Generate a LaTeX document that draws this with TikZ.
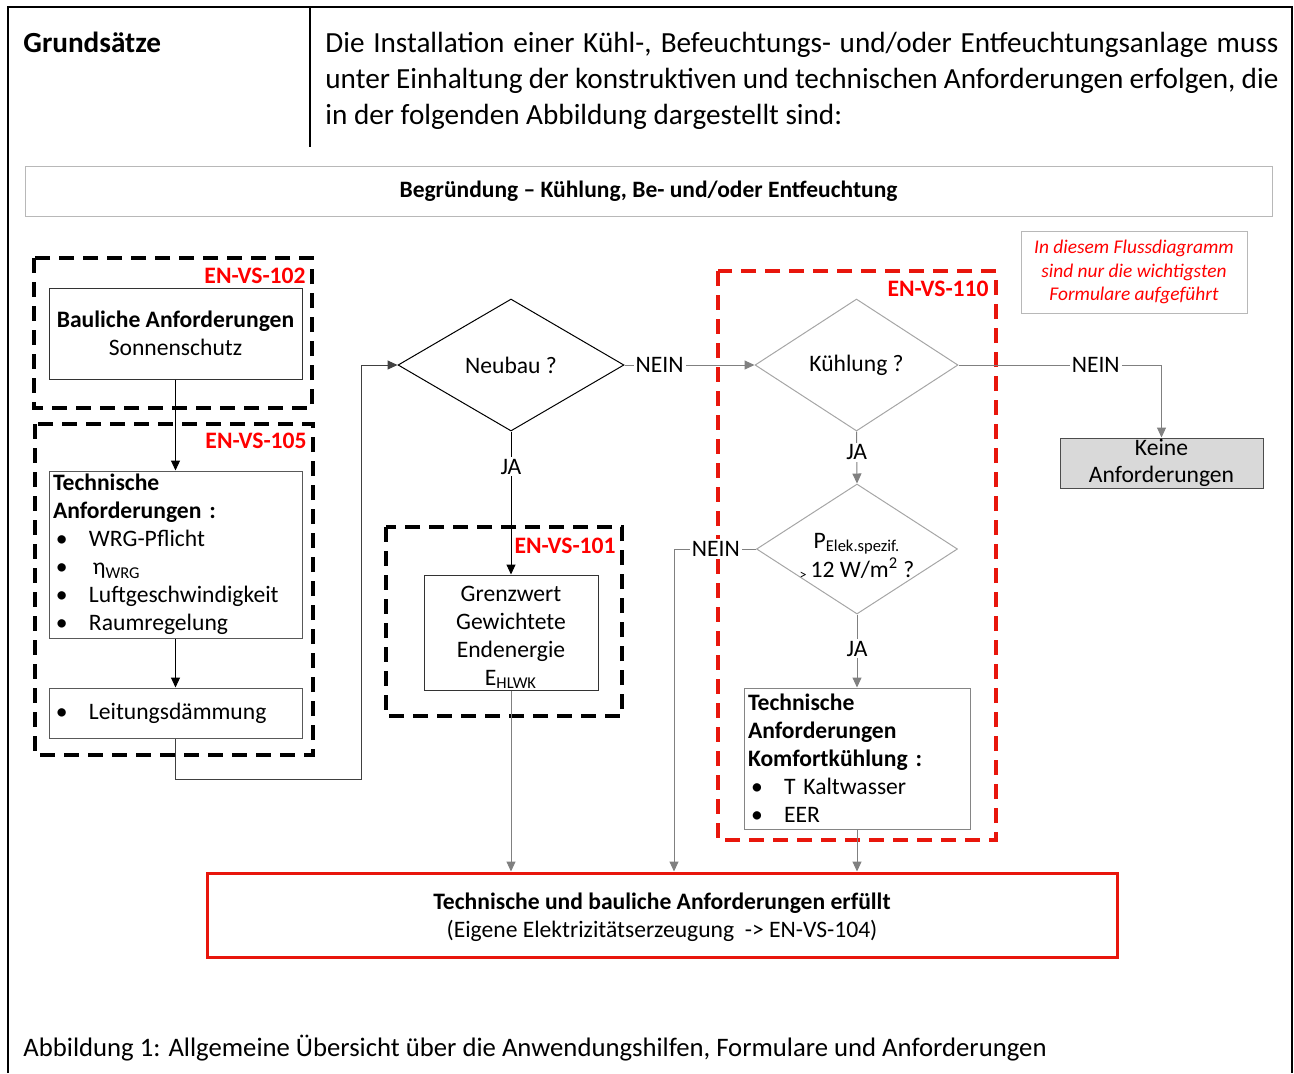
\documentclass[tikz,border=0pt]{standalone}
\usepackage{fontspec}
\setmainfont{Carlito}
\usetikzlibrary{shapes.geometric,arrows.meta}

\definecolor{framered}{RGB}{232,22,12}
\definecolor{labelred}{RGB}{255,0,0}
\definecolor{linegray}{RGB}{128,128,128}
\definecolor{edgegray}{RGB}{166,166,166}
\definecolor{boxgray}{RGB}{217,217,217}

\newcommand{\fsz}[2]{\fontsize{#1}{#2}\selectfont}
\newcommand{\diafont}{\fsz{11.8}{14}}
\newcommand{\bulitem}[1]{\makebox[18pt][l]{\hspace*{1.5pt}\textbullet}#1}

\begin{document}
\begin{tikzpicture}[x=0.5pt,y=-0.5pt]
  \tikzstyle{box} = [draw=black!80, line width=0.5pt, inner sep=0pt, font=\diafont, align=center]
  \tikzstyle{listbox} = [box, draw=black!65, align=left, inner xsep=2pt, text width=122.5pt]
  \tikzstyle{decide} = [diamond, draw, line width=0.5pt, inner sep=0pt, font=\diafont, align=center]
  \tikzstyle{grpframe} = [line width=2pt, dash pattern=on 7.5pt off 4.5pt]
  \tikzstyle{enlabel} = [text=labelred, font=\diafont\bfseries, inner sep=0pt, anchor=east]
  \tikzstyle{yesno} = [fill=white, inner sep=1pt, font=\diafont]
  \tikzstyle{blackarrow} = [line width=0.5pt, -{Triangle[length=5pt,width=4.5pt]}]
  \tikzstyle{grayarrow} = [draw=linegray, line width=0.5pt, -{Triangle[length=5pt,width=4.5pt]}, color=linegray]
  \useasboundingbox (0,0) rectangle (1294,1073);

  % page frame and heading
  \draw[line width=1pt] (8,1073) -- (8,7) -- (1292,7) -- (1292,1073);
  \draw[line width=0.8pt] (310,7) -- (310,147);
  \node[anchor=north west, inner sep=0pt, font=\fsz{14.6}{18}\bfseries] (grund) at (23,32) {Grundsätze};
  \node[anchor=north west, inner sep=0pt, font=\fsz{14.6}{18}, align=left] (intro) at (325,32)
    {\makebox[476.5pt][s]{Die Installation einer Kühl-, Befeuchtungs- und/oder Entfeuchtungsanlage muss}\\
     \makebox[476.5pt][s]{unter Einhaltung der konstruktiven und technischen Anforderungen erfolgen, die}\\
     in der folgenden Abbildung dargestellt sind:};

  \node[draw=edgegray!80, line width=0.5pt, minimum width=623.5pt, minimum height=25pt, font=\fsz{11.75}{13}\bfseries] (titel) at (648.5,191)
    {Begründung – Kühlung, Be- und/oder Entfeuchtung};
  \node[draw=edgegray!80, line width=0.5pt, minimum width=113pt, minimum height=41pt, align=center, text=labelred, font=\fsz{9.7}{11.7}\itshape] (hinweis) at (1134,272)
    {In diesem Flussdiagramm\\ sind nur die wichtigsten\\ Formulare aufgeführt};

  % group frames
  \draw[grpframe] (34,258) rectangle (312,408);
  \node[enlabel] (l102) at (306,276) {EN-VS-102};
  \draw[grpframe] (35,424) rectangle (313,755);
  \node[enlabel] (l105) at (307,441) {EN-VS-105};
  \draw[grpframe] (386,527) rectangle (622,716);
  \node[enlabel] (l101) at (616,546) {EN-VS-101};
  \draw[grpframe, framered] (718,271) rectangle (996,840);
  \node[enlabel] (l110) at (989,289) {EN-VS-110};

  % left column
  \node[box, minimum width=126.5pt, minimum height=45.5pt] (baul) at (175.5,333.5)
    {\textbf{Bauliche Anforderungen}\\ Sonnenschutz};
  \node[listbox, minimum height=83.5pt] (tech) at (175.5,554.5)
    {\textbf{Technische}\\ \textbf{Anforderungen :}\\ \bulitem{WRG-Pflicht}\\ \bulitem{\,η\textsubscript{WRG}}\\
     \bulitem{Luftgeschwindigkeit}\\ \bulitem{Raumregelung}};
  \node[listbox, minimum height=25pt] (leit) at (175.5,713) {\bulitem{Leitungsdämmung}};

  % middle column
  \node[decide, minimum width=113pt, minimum height=66pt] (neubau) at (511,365) {Neubau ?};
  \node[box, minimum width=87pt, minimum height=57.5pt] (grenz) at (511,632.5)
    {\rule{0pt}{12.5pt}Grenzwert\\ Gewichtete\\ Endenergie\\ E\textsubscript{HLWK}};

  % right column
  \node[decide, draw=edgegray, minimum width=101.5pt, minimum height=66pt] (kuehl) at (856.5,365) {Kühlung ?};
  \node[decide, draw=edgegray, minimum width=100.5pt, minimum height=65pt, font=\fsz{11.8}{14.5}] (pdia) at (857,549)
    {\makebox[0pt]{\raisebox{-7pt}[0pt][0pt]{\begin{tabular}{@{}c@{}}P\textsubscript{Elek.spezif.}\\
     \raisebox{-1pt}{\fsz{7}{8}>}\,12 W/m\textsuperscript{2} ?\end{tabular}}}};
  \node[listbox, draw=edgegray!80!black, text width=109pt, minimum height=70.5pt] (komf) at (857,758.5)
    {\textbf{Technische}\\ \textbf{Anforderungen}\\ \textbf{Komfortkühlung :}\\ \bulitem{T Kaltwasser}\\ \bulitem{EER}};
  \node[box, draw=black!70, fill=boxgray, minimum width=101.5pt, minimum height=25pt, font=\fsz{11.8}{13.5}] (keine) at (1161.5,463)
    {Keine\\ Anforderungen};

  % result
  \node[box, draw=framered, line width=1.5pt, minimum width=455pt, minimum height=42pt] (erfuellt) at (662,915)
    {\rule{0pt}{10.5pt}\textbf{Technische und bauliche Anforderungen erfüllt}\\ (Eigene Elektrizitätserzeugung\ \ -> EN-VS-104)};

  \node[anchor=north west, inner sep=0pt, font=\fsz{13.35}{18}] (caption) at (23,1035)
    {Abbildung 1: Allgemeine Übersicht über die Anwendungshilfen, Formulare und Anforderungen};

  % connectors
  \coordinate (turnA) at (361,779);
  \coordinate (turnB) at (674,549);
  \draw[blackarrow] (baul.south) -- (tech.north);
  \draw[blackarrow] (tech.south) -- (leit.north);
  \draw[blackarrow, draw=black!75] (leit.south) |- (turnA) |- (neubau.west);
  \draw[grayarrow] (neubau.east) -- node[yesno, pos=0.27, text=black] {NEIN} (kuehl.west);
  \draw[blackarrow] (neubau.south) -- node[yesno, pos=0.245] {JA} (grenz.north);
  \draw[grayarrow] (grenz.south) -- (grenz.south |- erfuellt.north);
  \draw[grayarrow] (kuehl.east) -| node[yesno, pos=0.338, text=black] {NEIN} (keine.north);
  \draw[grayarrow] (kuehl.south) -- node[yesno, pos=0.4, text=black] {JA} (pdia.north);
  \draw[grayarrow] (pdia.west) -- node[yesno, pos=0.49, text=black] {NEIN} (turnB) -- (turnB |- erfuellt.north);
  \draw[grayarrow] (pdia.south) -- node[yesno, pos=0.47, text=black] {JA} (komf.north);
  \draw[grayarrow] (komf.south) -- (komf.south |- erfuellt.north);
\end{tikzpicture}
\end{document}
